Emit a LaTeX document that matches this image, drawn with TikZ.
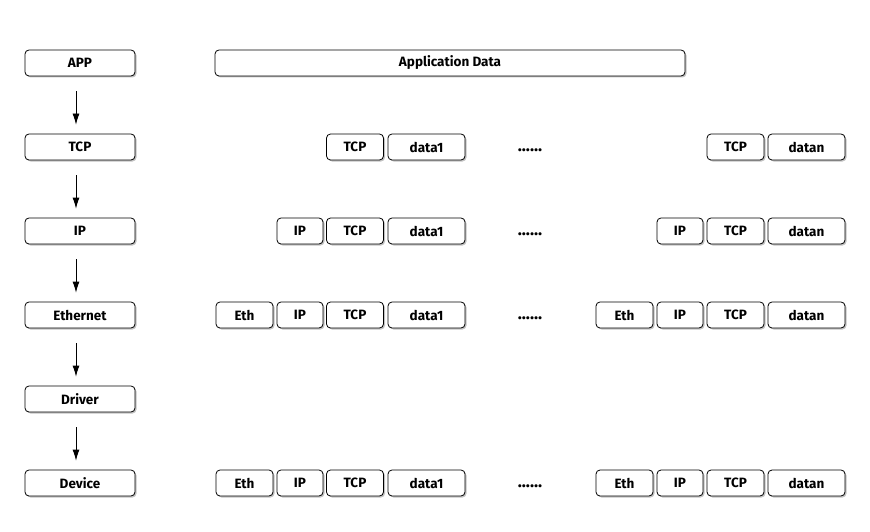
\documentclass[tikz,border=0pt]{standalone}
\usepackage{fontspec}
\setmainfont{Fira Sans}
\usepackage{tikz}
\usetikzlibrary{shadows,arrows.meta}
\tikzstyle{block}=[draw, rounded corners=4pt, fill=white, minimum height=26pt, inner sep=0pt,
  font=\fontsize{13.5}{15}\selectfont\bfseries,
  drop shadow={shadow xshift=1.5pt, shadow yshift=-1.5pt, opacity=0.4, fill=black!60}]
\tikzstyle{dots}=[font=\fontsize{17}{19}\selectfont\bfseries]
\newcommand{\block}{\node[block]}

\begin{document}
\begin{tikzpicture}[x=1pt, y=-1pt, line width=0.8pt]
	\useasboundingbox (0,0) rectangle (870,532);
	%% the layers
	\block[minimum width=110pt] (app) at (80,63) {APP};
	\block[minimum width=110pt] (tcp) at (80,147) {TCP};
	\block[minimum width=110pt] (ip) at (80,231) {IP};
	\block[minimum width=110pt] (eth) at (80,315) {Ethernet};
	\block[minimum width=110pt] (drv) at (80,399) {Driver};
	\block[minimum width=110pt] (dev) at (80,483) {Device};
	%% for the arrows
	\path[-{Latex[length=11pt,width=7pt]}, shorten <=15pt, shorten >=9pt]
		([xshift=-4pt]app.south) edge ([xshift=-4pt]tcp.north)
		([xshift=-4pt]tcp.south) edge ([xshift=-4pt]ip.north)
		([xshift=-4pt]ip.south) edge ([xshift=-4pt]eth.north)
		([xshift=-4pt]eth.south) edge ([xshift=-4pt]drv.north)
		([xshift=-4pt]drv.south) edge ([xshift=-4pt]dev.north)
		;
	%% application data
	\block[minimum width=470pt] (data) at (450,63) {Application Data};
	%% tcp row
	\block[minimum width=57pt] (tcpA) at (355,147) {TCP};
	\block[minimum width=77pt] (dataA) at (426.5,147) {data1};
	\node[dots] (dotsA) at (530,150) {......};
	\block[minimum width=57pt] (tcpN) at (735.5,147) {TCP};
	\block[minimum width=77pt] (dataN) at (806.5,147) {datan};
	%% ip row
	\block[minimum width=46pt] (ipB) at (300,231) {IP};
	\block[minimum width=57pt] (tcpB) at (355,231) {TCP};
	\block[minimum width=77pt] (dataB) at (426.5,231) {data1};
	\node[dots] (dotsB) at (530,234) {......};
	\block[minimum width=46pt] (ipM) at (680,231) {IP};
	\block[minimum width=57pt] (tcpM) at (735.5,231) {TCP};
	\block[minimum width=77pt] (dataM) at (806.5,231) {datan};
	%% ethernet row and device row
	\foreach \y/\r in {315/C,483/D}{
		\block[minimum width=57pt] (eth\r) at (244.5,\y) {Eth};
		\block[minimum width=46pt] (ip\r) at (300,\y) {IP};
		\block[minimum width=57pt] (tcp\r) at (355,\y) {TCP};
		\block[minimum width=77pt] (data\r) at (426.5,\y) {data1};
		\node[dots] (dots\r) at (530,\y+3) {......};
		\block[minimum width=57pt] (eth\r n) at (624.5,\y) {Eth};
		\block[minimum width=46pt] (ip\r n) at (680,\y) {IP};
		\block[minimum width=57pt] (tcp\r n) at (735.5,\y) {TCP};
		\block[minimum width=77pt] (data\r n) at (806.5,\y) {datan};
	}
\end{tikzpicture}
\end{document}
